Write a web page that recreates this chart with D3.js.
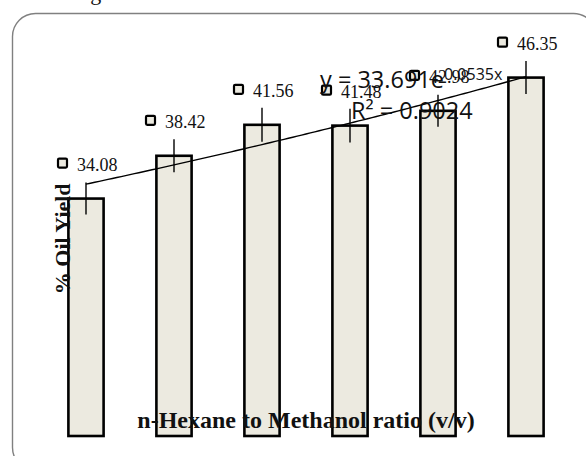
<!DOCTYPE html>
<html>
<head>
<meta charset="utf-8">
<script src="https://cdn.jsdelivr.net/npm/d3@7"></script>
<style>
  html, body { margin: 0; padding: 0; background: #fff; }
  svg { display: block; }
</style>
</head>
<body>
<svg id="chart" width="586" height="456"></svg>
<script>
// ---- data ----
const categories = ["1", "2", "3", "4", "5", "6"];
const values = [34.08, 38.42, 41.56, 41.48, 42.98, 46.35];
const errors = [1.62, 1.67, 1.72, 1.72, 1.62, 1.67];
const trendA = 33.691;
const trendB = 0.0535;
const trendR2 = "0.9024";
const xTitle = "n-Hexane to Methanol ratio (v/v)";
const yTitle = "% Oil Yield";
const yDomain = [10, 50];

// ---- layout ----
const svg = d3.select("#chart");
const plot = { left: 42, right: 570, top: 41.6, bottom: 436 };
const barFill = "#ECEAE0";

// cut-off document text above the chart
svg.append("text")
  .attr("x", -6).attr("y", -0.5)
  .attr("font-family", "Liberation Serif, Times New Roman, serif")
  .attr("font-size", 22)
  .attr("word-spacing", 6)
  .attr("fill", "#111")
  .text("own in Fig. 1.");

// chart frame (rounded, partly outside the view)
svg.append("rect")
  .attr("x", 12.5).attr("y", 13.5)
  .attr("width", 584).attr("height", 457)
  .attr("rx", 23).attr("ry", 23)
  .attr("fill", "#fff")
  .attr("stroke", "#808080")
  .attr("stroke-width", 1.4);

const x = d3.scaleBand()
  .domain(categories)
  .range([plot.left, plot.right])
  .paddingInner(0.6)
  .paddingOuter(0.3);

const y = d3.scaleLinear()
  .domain(yDomain)
  .range([plot.bottom, plot.top]);

const data = categories.map((c, i) => ({ c, v: values[i], e: errors[i], i }));

// bars
svg.append("g").selectAll("rect")
  .data(data).join("rect")
  .attr("x", d => x(d.c))
  .attr("y", d => y(d.v))
  .attr("width", x.bandwidth())
  .attr("height", d => y(yDomain[0]) - y(d.v))
  .attr("fill", barFill)
  .attr("stroke", "#000")
  .attr("stroke-width", 2.6);

// error bars
svg.append("g").selectAll("line")
  .data(data).join("line")
  .attr("x1", d => x(d.c) + x.bandwidth() / 2)
  .attr("x2", d => x(d.c) + x.bandwidth() / 2)
  .attr("y1", d => y(d.v + d.e))
  .attr("y2", d => y(d.v - d.e))
  .attr("stroke", "#000")
  .attr("stroke-width", 1.4);

// exponential trendline y = a e^(b x), x = 1..n
const cx = i => x(categories[i]) + x.bandwidth() / 2;
const trendPts = d3.range(0, categories.length - 1 + 0.001, 0.05).map(t => {
  const i0 = Math.floor(t), i1 = Math.min(i0 + 1, categories.length - 1);
  const px = cx(i0) + (cx(i1) - cx(i0)) * (t - i0);
  return [px, y(trendA * Math.exp(trendB * (t + 1)))];
});
svg.append("path")
  .attr("d", d3.line()(trendPts))
  .attr("fill", "none")
  .attr("stroke", "#000")
  .attr("stroke-width", 1.4);

// data labels with legend-key squares
const lab = svg.append("g").selectAll("g")
  .data(data).join("g");
lab.append("rect")
  .attr("x", d => x(d.c) + x.bandwidth() / 2 - 28)
  .attr("y", d => y(d.v) - 40)
  .attr("width", 9).attr("height", 9)
  .attr("rx", 1.2)
  .attr("fill", barFill)
  .attr("stroke", "#000")
  .attr("stroke-width", 2.2);
lab.append("text")
  .attr("x", d => x(d.c) + x.bandwidth() / 2 - 9)
  .attr("y", d => y(d.v) - 28)
  .attr("font-family", "Liberation Serif, Times New Roman, serif")
  .attr("font-size", 18)
  .attr("fill", "#111")
  .text(d => d.v.toFixed(2));

// trendline equation
const eq = svg.append("text")
  .attr("font-family", "Open Sans, Noto Sans, sans-serif")
  .attr("fill", "#111");
eq.append("tspan")
  .attr("x", 320).attr("y", 88)
  .attr("font-size", 23.5)
  .text("y = " + trendA + "e");
eq.append("tspan")
  .attr("dy", -8)
  .attr("font-size", 16)
  .text(trendB + "x");
svg.append("text")
  .attr("x", 351).attr("y", 119)
  .attr("font-family", "Open Sans, Noto Sans, sans-serif")
  .attr("font-size", 23.5)
  .attr("fill", "#111")
  .text("R² = " + trendR2);

// axis titles
svg.append("text")
  .attr("x", (plot.left + plot.right) / 2)
  .attr("y", 428)
  .attr("text-anchor", "middle")
  .attr("font-family", "Liberation Serif, Times New Roman, serif")
  .attr("font-weight", "bold")
  .attr("font-size", 24)
  .attr("fill", "#111")
  .text(xTitle);

svg.append("text")
  .attr("transform", "translate(70," + ((plot.top + plot.bottom) / 2) + ") rotate(-90)")
  .attr("text-anchor", "middle")
  .attr("font-family", "Liberation Serif, Times New Roman, serif")
  .attr("font-weight", "bold")
  .attr("font-size", 22)
  .attr("fill", "#111")
  .text(yTitle);
</script>
</body>
</html>
